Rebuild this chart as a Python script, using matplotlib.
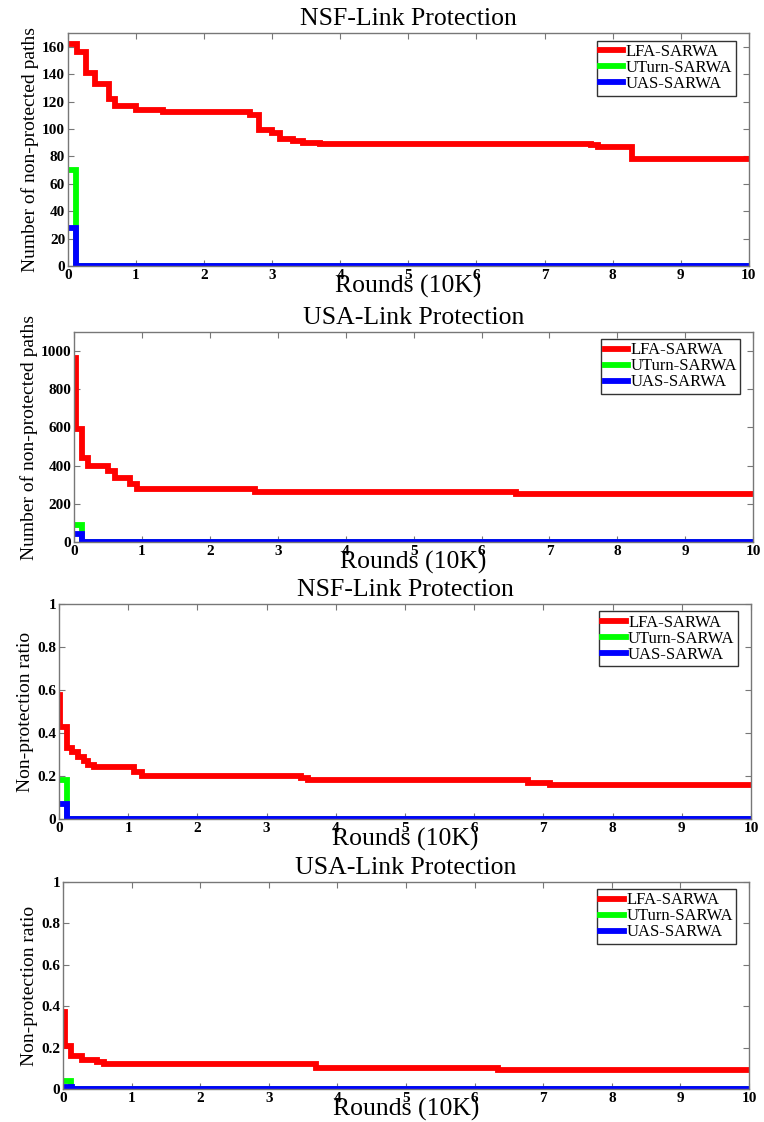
"""Non-protected paths / ratio vs rounds for NSF and USA networks."""

import matplotlib
matplotlib.use("Agg")
import matplotlib.pyplot as plt

plt.rcParams["font.family"] = ["Liberation Serif", "DejaVu Serif"]

LABELS = ["LFA-SARWA", "UTurn-SARWA", "UAS-SARWA"]
COLORS = ["#ff0000", "#00ff00", "#0000ff"]

# NSF - number of non-protected paths
nsf_cnt_lfa_x = [0, 0.13, 0.27, 0.40, 0.60, 0.69, 1.0, 1.4, 2.68, 2.8, 3.0, 3.12,
                 3.3, 3.45, 3.7, 7.68, 7.78, 8.29, 10]
nsf_cnt_lfa_y = [162, 156, 141, 133, 122, 117, 114, 112, 110, 99, 97, 93,
                 91, 90, 89, 88, 87, 78, 78]
nsf_cnt_uturn_x = [0, 0.12, 10]
nsf_cnt_uturn_y = [70, 0, 0]
nsf_cnt_uas_x = [0, 0.12, 10]
nsf_cnt_uas_y = [28, 0, 0]

# USA - number of non-protected paths
usa_cnt_lfa_x = [0, 0.03, 0.11, 0.2, 0.5, 0.6, 0.82, 0.92, 2.67, 6.5, 10]
usa_cnt_lfa_y = [965, 590, 440, 400, 370, 335, 305, 280, 262, 250, 250]
usa_cnt_uturn_x = [0, 0.12, 10]
usa_cnt_uturn_y = [90, 0, 0]
usa_cnt_uas_x = [0, 0.12, 10]
usa_cnt_uas_y = [40, 0, 0]

# NSF - non-protection ratio
nsf_ratio_lfa_x = [0, 0.02, 0.115, 0.19, 0.28, 0.36, 0.42, 0.5, 1.08, 1.2, 3.5,
                   3.6, 6.78, 7.1, 10]
nsf_ratio_lfa_y = [0.575, 0.43, 0.33, 0.31, 0.29, 0.27, 0.25, 0.24, 0.22, 0.20,
                   0.19, 0.18, 0.17, 0.16, 0.16]
nsf_ratio_uturn_x = [0, 0.12, 10]
nsf_ratio_uturn_y = [0.18, 0, 0]
nsf_ratio_uas_x = [0, 0.12, 10]
nsf_ratio_uas_y = [0.07, 0, 0]

# USA - non-protection ratio
usa_ratio_lfa_x = [0, 0.03, 0.11, 0.27, 0.49, 0.59, 3.68, 6.34, 10]
usa_ratio_lfa_y = [0.37, 0.21, 0.16, 0.14, 0.13, 0.12, 0.10, 0.09, 0.09]
usa_ratio_uturn_x = [0, 0.12, 10]
usa_ratio_uturn_y = [0.04, 0, 0]
usa_ratio_uas_x = [0, 0.13, 10]
usa_ratio_uas_y = [0.01, 0, 0]

count_ticks = [[0, 20, 40, 60, 80, 100, 120, 140, 160],
               [0, 200, 400, 600, 800, 1000]]
ratio_ticks = [0, 0.2, 0.4, 0.6, 0.8, 1]
ratio_tick_labels = ["0", "0.2", "0.4", "0.6", "0.8", "1"]
x_ticks = list(range(0, 11))

panels = [
    dict(title="NSF-Link Protection", ylabel="Number of non-protected paths",
         series=[(nsf_cnt_lfa_x, nsf_cnt_lfa_y), (nsf_cnt_uturn_x, nsf_cnt_uturn_y),
                 (nsf_cnt_uas_x, nsf_cnt_uas_y)],
         ylim=170, yticks=count_ticks[0], yticklabels=None,
         rect=[0.089, 0.7629, 0.891, 0.2077]),
    dict(title="USA-Link Protection", ylabel="Number of non-protected paths",
         series=[(usa_cnt_lfa_x, usa_cnt_lfa_y), (usa_cnt_uturn_x, usa_cnt_uturn_y),
                 (usa_cnt_uas_x, usa_cnt_uas_y)],
         ylim=1100, yticks=count_ticks[1], yticklabels=None,
         rect=[0.0969, 0.5169, 0.889, 0.1872]),
    dict(title="NSF-Link Protection", ylabel="Non-protection ratio",
         series=[(nsf_ratio_lfa_x, nsf_ratio_lfa_y), (nsf_ratio_uturn_x, nsf_ratio_uturn_y),
                 (nsf_ratio_uas_x, nsf_ratio_uas_y)],
         ylim=1, yticks=ratio_ticks, yticklabels=ratio_tick_labels,
         rect=[0.0772, 0.27, 0.9058, 0.1916]),
    dict(title="USA-Link Protection", ylabel="Non-protection ratio",
         series=[(usa_ratio_lfa_x, usa_ratio_lfa_y), (usa_ratio_uturn_x, usa_ratio_uturn_y),
                 (usa_ratio_uas_x, usa_ratio_uas_y)],
         ylim=1, yticks=ratio_ticks, yticklabels=ratio_tick_labels,
         rect=[0.0825, 0.0294, 0.898, 0.1845]),
]

fig = plt.figure(figsize=(7.64, 11.22), dpi=100)

for p in panels:
    ax = fig.add_axes(p["rect"])
    for (x, y), lab, col in zip(p["series"], LABELS, COLORS):
        ax.step(x, y, where="post", color=col, linewidth=4.2, label=lab,
                solid_joinstyle="miter")
    ax.set_xlim(0, 10)
    ax.set_ylim(0, p["ylim"])
    ax.set_xticks(x_ticks)
    ax.set_yticks(p["yticks"])
    if p["yticklabels"] is not None:
        ax.set_yticklabels(p["yticklabels"])
    ax.tick_params(direction="in", top=True, right=True, length=4, width=0.8,
                   color="#777777", labelsize=11, pad=2)
    for lbl in ax.get_xticklabels() + ax.get_yticklabels():
        lbl.set_fontweight("bold")
    for sp in ax.spines.values():
        sp.set_color("#777777")
        sp.set_linewidth(1.0)
    ax.set_title(p["title"], fontsize=18.5, pad=6)
    ax.set_xlabel("Rounds (10K)", fontsize=18.5, labelpad=-5)
    ax.set_ylabel(p["ylabel"], fontsize=14, labelpad=2)
    leg = ax.legend(loc="upper right", bbox_to_anchor=(0.981, 0.966), fontsize=12,
                    fancybox=False, framealpha=1, edgecolor="#333333",
                    handlelength=1.4, handletextpad=0.15, labelspacing=0.0,
                    borderpad=0.2, borderaxespad=0)
    leg.get_frame().set_linewidth(1.0)

fig.savefig("out.png", dpi=100, facecolor="white")
plt.close(fig)
